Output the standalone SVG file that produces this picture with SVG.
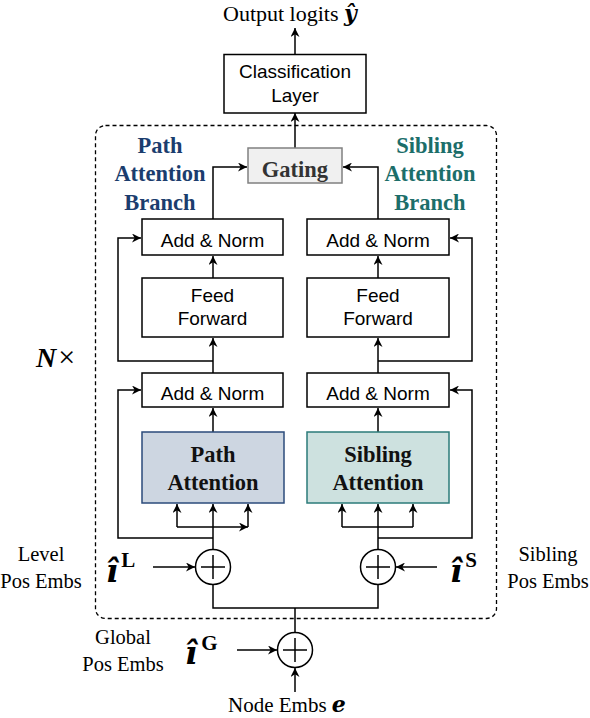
<svg xmlns="http://www.w3.org/2000/svg" width="590" height="718" viewBox="0 0 590 718">
<defs>
<marker id="ah" viewBox="0 0 10 10" refX="10" refY="5" markerWidth="9" markerHeight="9" markerUnits="userSpaceOnUse" orient="auto">
<path d="M0,0 L10,5 L0,10 L3,5 Z" fill="#000"/>
</marker>
<style>
.box{fill:#fff;stroke:#000;stroke-width:1.5}
.ln{fill:none;stroke:#000;stroke-width:1.5}
.arr{fill:none;stroke:#000;stroke-width:1.5;marker-end:url(#ah)}
.sans{font-family:"Liberation Sans",Arial,sans-serif;font-size:19px;text-anchor:middle;fill:#000}
.serif{font-family:"Liberation Serif","Times New Roman",serif;font-size:20.5px;fill:#000}
.bold{font-family:"Liberation Serif","Times New Roman",serif;font-size:22.5px;font-weight:bold;text-anchor:middle}
.mi{font-family:"DejaVu Serif","Liberation Serif",serif;font-weight:bold;font-style:italic;font-size:32px}
.sup{font-family:"Liberation Serif","Times New Roman",serif;font-size:21px;font-weight:bold;font-style:normal}
</style>
</defs>

<rect id="layer-frame" x="95.5" y="125.5" width="401" height="493" rx="10" ry="10" fill="none" stroke="#000" stroke-width="1.3" stroke-dasharray="4,3"/>

<g id="connectors">
<path class="arr" d="M295,54 V28"/>
<path class="arr" d="M295,148 V113"/>
<path class="arr" d="M213,219 V167 H247"/>
<path class="arr" d="M378,219 V167 H343"/>
<path class="arr" d="M213,278 V256"/>
<path class="arr" d="M378,278 V256"/>
<path class="arr" d="M213,373 V338"/>
<path class="arr" d="M378,373 V338"/>
<path class="arr" d="M213,361 H118 V238 H141"/>
<path class="arr" d="M378,361 H472 V238 H450"/>
<path class="arr" d="M213,432 V408"/>
<path class="arr" d="M378,432 V408"/>
<path class="arr" d="M213,538 H118 V390 H141"/>
<path class="arr" d="M378,538 H472 V390 H450"/>
<path class="ln" d="M213,549 V527"/>
<path class="arr" d="M177,527 H248"/>
<path class="arr" d="M177,527 V504"/>
<path class="arr" d="M213,527 V504"/>
<path class="arr" d="M248,527 V504"/>
<path class="ln" d="M378,549 V527 M342,527 H413"/>
<path class="arr" d="M342,527 V504"/>
<path class="arr" d="M378,527 V504"/>
<path class="arr" d="M413,527 V504"/>
<path class="ln" d="M213,585 V608 H378 V585 M295,608 V632"/>
<path class="arr" d="M153,567 H195"/>
<path class="arr" d="M437,567 H396"/>
<path class="arr" d="M237,650 H277"/>
<path class="arr" d="M295,692 V668"/>
</g>

<g id="output-label">
<text class="serif" x="223" y="21" style="font-size:22px">Output logits <tspan style="font-family:'DejaVu Serif',serif;font-weight:bold;font-style:italic;font-size:22px">ŷ</tspan></text>
</g>

<g id="classification-layer">
<rect class="box" x="224" y="54.5" width="142" height="58.5"/>
<text class="sans" x="295" y="78">Classification</text>
<text class="sans" x="295" y="102">Layer</text>
</g>

<g id="gating">
<rect x="248" y="148" width="94" height="35" fill="#f0f0f0" stroke="#808080" stroke-width="1.5"/>
<text class="bold" x="295" y="177" fill="#333">Gating</text>
</g>

<g id="path-branch-label">
<text class="bold" x="160" y="153" fill="#1b3d6e">Path</text>
<text class="bold" x="160" y="181" fill="#1b3d6e">Attention</text>
<text class="bold" x="160" y="210" fill="#1b3d6e">Branch</text>
</g>
<g id="sibling-branch-label">
<text class="bold" x="430" y="153" fill="#1c6e6a">Sibling</text>
<text class="bold" x="430" y="181" fill="#1c6e6a">Attention</text>
<text class="bold" x="430" y="210" fill="#1c6e6a">Branch</text>
</g>

<g id="path-addnorm-top">
<rect class="box" x="142" y="219" width="141" height="36"/>
<text class="sans" x="212.5" y="247">Add &amp; Norm</text>
</g>
<g id="sibling-addnorm-top">
<rect class="box" x="307" y="219" width="142" height="36"/>
<text class="sans" x="378" y="247">Add &amp; Norm</text>
</g>

<g id="path-ffn">
<rect class="box" x="142" y="278" width="141" height="59"/>
<text class="sans" x="212.5" y="302">Feed</text>
<text class="sans" x="212.5" y="325">Forward</text>
</g>
<g id="sibling-ffn">
<rect class="box" x="307" y="278" width="142" height="59"/>
<text class="sans" x="378" y="302">Feed</text>
<text class="sans" x="378" y="325">Forward</text>
</g>

<g id="path-addnorm-bottom">
<rect class="box" x="142" y="373" width="141" height="34"/>
<text class="sans" x="212.5" y="400">Add &amp; Norm</text>
</g>
<g id="sibling-addnorm-bottom">
<rect class="box" x="307" y="373" width="142" height="34"/>
<text class="sans" x="378" y="400">Add &amp; Norm</text>
</g>

<g id="path-attention">
<rect x="142" y="432" width="142" height="71" fill="#cdd6e1" stroke="#2b4b7b" stroke-width="1.5"/>
<text class="bold" x="213" y="462" fill="#111">Path</text>
<text class="bold" x="213" y="490" fill="#111">Attention</text>
</g>
<g id="sibling-attention">
<rect x="307" y="432" width="142" height="71" fill="#cde1df" stroke="#2b7b7a" stroke-width="1.5"/>
<text class="bold" x="378" y="462" fill="#111">Sibling</text>
<text class="bold" x="378" y="490" fill="#111">Attention</text>
</g>

<g id="level-add">
<circle cx="213" cy="567" r="17.5" class="box"/>
<path class="ln" d="M201,567 H225 M213,555 V579"/>
</g>
<g id="sibling-add">
<circle cx="378" cy="567" r="17.5" class="box"/>
<path class="ln" d="M366,567 H390 M378,555 V579"/>
</g>
<g id="global-add">
<circle cx="295" cy="650" r="17.5" class="box"/>
<path class="ln" d="M283,650 H307 M295,638 V662"/>
</g>

<g id="n-times">
<text x="36" y="367" style="font-family:'Liberation Serif','Times New Roman',serif;font-size:28px;font-style:italic;font-weight:bold">N<tspan style="font-style:normal;font-weight:normal;font-size:30px" dx="2">×</tspan></text>
</g>

<g id="level-pos">
<text class="mi" x="106" y="582">i&#x302;<tspan class="sup" dx="3" dy="-15">L</tspan></text>
<text class="serif" x="41" y="561" text-anchor="middle">Level</text>
<text class="serif" x="41" y="588" text-anchor="middle">Pos Embs</text>
</g>
<g id="sibling-pos">
<text class="mi" x="450" y="582">i&#x302;<tspan class="sup" dx="3" dy="-15">S</tspan></text>
<text class="serif" x="548" y="561" text-anchor="middle">Sibling</text>
<text class="serif" x="548" y="588" text-anchor="middle">Pos Embs</text>
</g>
<g id="global-pos">
<text class="mi" x="185" y="664">i&#x302;<tspan class="sup" dx="4" dy="-14">G</tspan></text>
<text class="serif" x="123" y="644" text-anchor="middle">Global</text>
<text class="serif" x="123" y="671" text-anchor="middle">Pos Embs</text>
</g>
<g id="node-embs">
<text class="serif" x="228" y="712" style="font-size:21px">Node Embs <tspan style="font-family:'DejaVu Serif',serif;font-weight:bold;font-style:italic;font-size:22px">e</tspan></text>
</g>
</svg>
